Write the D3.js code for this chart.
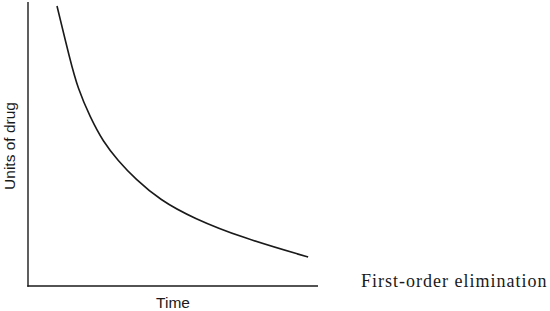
<!DOCTYPE html>
<html lang="en">
<head>
  <meta charset="UTF-8" />
  <title>First-order elimination</title>
  <script src="https://d3js.org/d3.v7.min.js"></script>
  <style>
    body { margin: 0; background: #fff; }
    svg { display: block; }
    .axis-line { stroke: #1a1a1a; stroke-width: 1.4; }
    .curve { fill: none; stroke: #1a1a1a; stroke-width: 1.6; }
    .label { font-family: Arial, "Liberation Sans", sans-serif; font-size: 15.5px; fill: #1a1a1a; }
    .caption { font-family: "Liberation Serif", "DejaVu Serif", serif; font-size: 18px; letter-spacing: 1px; fill: #1a1a1a; }
  </style>
</head>
<body>
  <svg width="550" height="311"></svg>
  <script>
    // Curve (arbitrary units, 0-100 on both axes)
    const time  = [10, 14.5, 17.2, 21.4, 25.9, 31, 37, 45.5, 56.9, 74.1, 96.6];
    const units = [98.6, 79.6, 69.5, 59.5, 50.8, 44.2, 37.7, 30.3, 23.9, 16.9, 10.2];

    const svg = d3.select("svg");

    const x = d3.scaleLinear().domain([0, 100]).range([28, 318]);
    const y = d3.scaleLinear().domain([0, 100]).range([286, 2]);

    // Axes: plain lines, no ticks
    svg.append("line").attr("class", "axis-line")
      .attr("x1", x(0)).attr("x2", x(0))
      .attr("y1", y(0) + 0.7).attr("y2", y(100));
    svg.append("line").attr("class", "axis-line")
      .attr("x1", x(0) - 0.7).attr("x2", x(100))
      .attr("y1", y(0)).attr("y2", y(0));

    const pts = time.map((t, i) => [t, units[i]]);
    // basis spline smooths out small reading errors in the points
    const line = d3.line()
      .x(d => x(d[0]))
      .y(d => y(d[1]))
      .curve(d3.curveBasis);

    svg.append("path").attr("class", "curve").attr("d", line(pts));

    // Axis titles
    svg.append("text").attr("class", "label")
      .attr("text-anchor", "middle")
      .attr("transform", "translate(15,146) rotate(-90)")
      .text("Units of drug");

    svg.append("text").attr("class", "label")
      .attr("text-anchor", "middle")
      .attr("x", 173).attr("y", 308)
      .text("Time");

    svg.append("text").attr("class", "caption")
      .attr("x", 361).attr("y", 287)
      .text("First-order elimination");
  </script>
</body>
</html>
